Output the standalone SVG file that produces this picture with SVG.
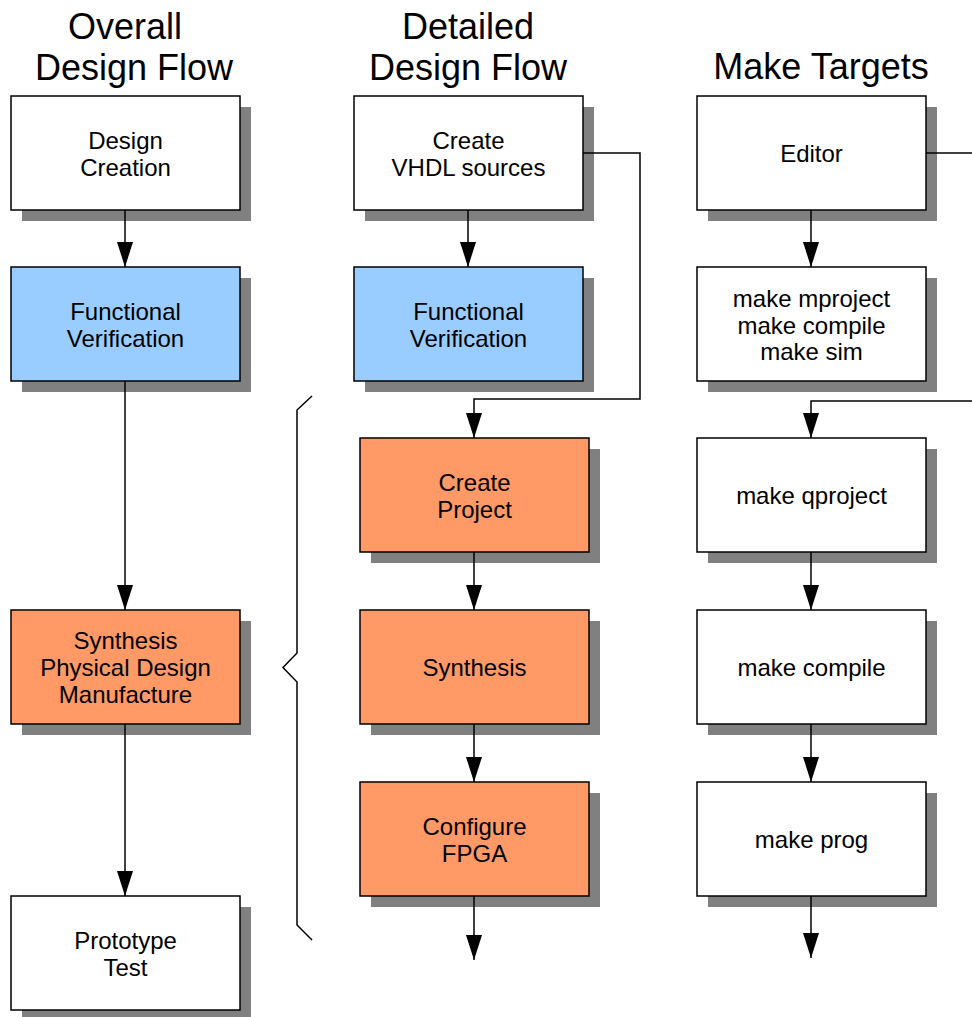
<svg xmlns="http://www.w3.org/2000/svg" width="972" height="1017" viewBox="0 0 972 1017">
<style>
.t{font-family:"Liberation Sans",Arial,sans-serif;fill:#000;text-anchor:middle}
.title{font-size:36px}
.lbl{font-size:24px}
.box{stroke:#000;stroke-width:1.5}
.sh{fill:#808080}
.w{fill:#fff}
.b{fill:#99ccff}
.o{fill:#ff9966}
.c{fill:none;stroke:#000;stroke-width:1.5}
</style>
<defs>
<marker id="arr" markerUnits="userSpaceOnUse" markerWidth="26" markerHeight="17" refX="25" refY="8" orient="auto">
<path d="M0,0 L25,8 L0,16 z" fill="#000"/>
</marker>
</defs>
<rect width="972" height="1017" fill="#fff"/>
<g id="titles">
<text class="t title" x="125" y="39">Overall</text>
<text class="t title" x="134" y="80">Design Flow</text>
<text class="t title" x="468" y="39">Detailed</text>
<text class="t title" x="468" y="80">Design Flow</text>
<text class="t title" x="821" y="79">Make Targets</text>
</g>
<g id="shadows">
<rect class="sh" x="22" y="107" width="229" height="114"/>
<rect class="sh" x="22" y="278" width="229" height="114"/>
<rect class="sh" x="22" y="621" width="229" height="114"/>
<rect class="sh" x="22" y="907" width="229" height="114"/>
<rect class="sh" x="365" y="107" width="229" height="114"/>
<rect class="sh" x="365" y="278" width="229" height="114"/>
<rect class="sh" x="371" y="449" width="229" height="114"/>
<rect class="sh" x="371" y="621" width="229" height="114"/>
<rect class="sh" x="371" y="793" width="229" height="114"/>
<rect class="sh" x="708" y="107" width="229" height="114"/>
<rect class="sh" x="708" y="278" width="229" height="114"/>
<rect class="sh" x="708" y="449" width="229" height="114"/>
<rect class="sh" x="708" y="621" width="229" height="114"/>
<rect class="sh" x="708" y="793" width="229" height="114"/>
</g>
<g id="connectors">
<line class="c" x1="125" y1="210" x2="125" y2="267" marker-end="url(#arr)"/>
<line class="c" x1="125" y1="381" x2="125" y2="610" marker-end="url(#arr)"/>
<line class="c" x1="125" y1="724" x2="125" y2="896" marker-end="url(#arr)"/>
<line class="c" x1="468" y1="210" x2="468" y2="267" marker-end="url(#arr)"/>
<polyline class="c" points="583,153 640,153 640,399 474,399 474,438" marker-end="url(#arr)"/>
<line class="c" x1="474" y1="552" x2="474" y2="610" marker-end="url(#arr)"/>
<line class="c" x1="474" y1="724" x2="474" y2="782" marker-end="url(#arr)"/>
<line class="c" x1="474" y1="896" x2="474" y2="960" marker-end="url(#arr)"/>
<line class="c" x1="811" y1="210" x2="811" y2="267" marker-end="url(#arr)"/>
<line class="c" x1="926" y1="153" x2="972" y2="153"/>
<polyline class="c" points="972,401 811,401 811,438" marker-end="url(#arr)"/>
<line class="c" x1="811" y1="552" x2="811" y2="610" marker-end="url(#arr)"/>
<line class="c" x1="811" y1="724" x2="811" y2="782" marker-end="url(#arr)"/>
<line class="c" x1="811" y1="896" x2="811" y2="958" marker-end="url(#arr)"/>
<path class="c" d="M312,396 L297,410 L297,653 L283,667.5 L297,682 L297,925 L312,940"/>
</g>
<g id="design-creation"><rect class="box w" x="11" y="96" width="229" height="114"/><text class="t lbl" x="125.5" y="149">Design</text><text class="t lbl" x="125.5" y="176">Creation</text></g>
<g id="functional-verification-1"><rect class="box b" x="11" y="267" width="229" height="114"/><text class="t lbl" x="125.5" y="320">Functional</text><text class="t lbl" x="125.5" y="347">Verification</text></g>
<g id="synthesis-physical"><rect class="box o" x="11" y="610" width="229" height="114"/><text class="t lbl" x="125.5" y="649">Synthesis</text><text class="t lbl" x="125.5" y="676">Physical Design</text><text class="t lbl" x="125.5" y="703">Manufacture</text></g>
<g id="prototype-test"><rect class="box w" x="11" y="896" width="229" height="114"/><text class="t lbl" x="125.5" y="949">Prototype</text><text class="t lbl" x="125.5" y="976">Test</text></g>
<g id="create-vhdl"><rect class="box w" x="354" y="96" width="229" height="114"/><text class="t lbl" x="468.5" y="149">Create</text><text class="t lbl" x="468.5" y="176">VHDL sources</text></g>
<g id="functional-verification-2"><rect class="box b" x="354" y="267" width="229" height="114"/><text class="t lbl" x="468.5" y="320">Functional</text><text class="t lbl" x="468.5" y="347">Verification</text></g>
<g id="create-project"><rect class="box o" x="360" y="438" width="229" height="114"/><text class="t lbl" x="474.5" y="491">Create</text><text class="t lbl" x="474.5" y="518">Project</text></g>
<g id="synthesis"><rect class="box o" x="360" y="610" width="229" height="114"/><text class="t lbl" x="474.5" y="676">Synthesis</text></g>
<g id="configure-fpga"><rect class="box o" x="360" y="782" width="229" height="114"/><text class="t lbl" x="474.5" y="835">Configure</text><text class="t lbl" x="474.5" y="862">FPGA</text></g>
<g id="editor"><rect class="box w" x="697" y="96" width="229" height="114"/><text class="t lbl" x="811.5" y="162">Editor</text></g>
<g id="make-mproject"><rect class="box w" x="697" y="267" width="229" height="114"/><text class="t lbl" x="811.5" y="307">make mproject</text><text class="t lbl" x="811.5" y="334">make compile</text><text class="t lbl" x="811.5" y="360">make sim</text></g>
<g id="make-qproject"><rect class="box w" x="697" y="438" width="229" height="114"/><text class="t lbl" x="811.5" y="504">make qproject</text></g>
<g id="make-compile"><rect class="box w" x="697" y="610" width="229" height="114"/><text class="t lbl" x="811.5" y="676">make compile</text></g>
<g id="make-prog"><rect class="box w" x="697" y="782" width="229" height="114"/><text class="t lbl" x="811.5" y="848">make prog</text></g>
</svg>
